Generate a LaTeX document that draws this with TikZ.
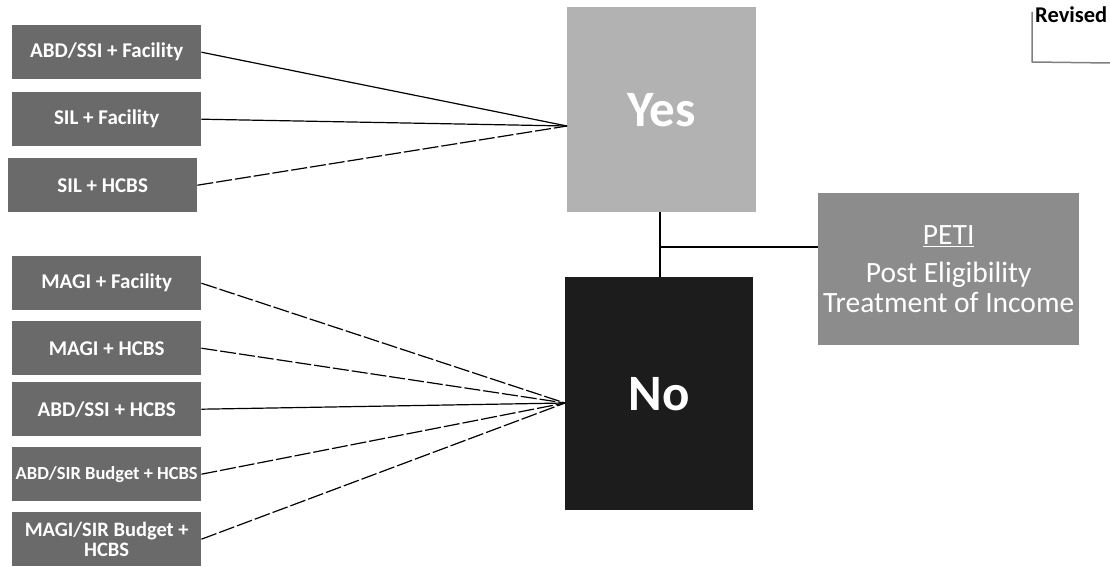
\documentclass[tikz,border=0pt]{standalone}
\usepackage{fontspec}
\setmainfont{Carlito}
\begin{document}
\begin{tikzpicture}[x=1pt,y=-1pt,
  lbox/.style={fill=leftgray, draw=none, text=white, font=\fontsize{21}{22}\selectfont\bfseries, minimum width=189pt, minimum height=54pt, anchor=north west, inner sep=1pt, align=center},
  conn/.style={draw=black, line width=1.2pt},
  dconn/.style={conn, dash pattern=on 16pt off 3pt}
]
\definecolor{leftgray}{HTML}{6A6A6A}
\definecolor{yesgray}{HTML}{B2B2B2}
\definecolor{nodark}{HTML}{1C1C1C}
\definecolor{petigray}{HTML}{8C8C8C}
\useasboundingbox (0,0) rectangle (1110,567);
\fill[white] (0,0) rectangle (1110,567);

% left boxes
\node[lbox] (a1) at (12,25) {ABD/SSI + Facility};
\node[lbox] (a2) at (12,92) {SIL + Facility};
\node[lbox] (a3) at (8,158) {SIL + HCBS};
\node[lbox] (b1) at (12,256) {MAGI + Facility};
\node[lbox] (b2) at (12,321) {MAGI + HCBS};
\node[lbox] (b3) at (12,382) {ABD/SSI + HCBS};
\node[lbox, font=\fontsize{18.5}{20}\selectfont\bfseries] (b4) at (12,447) {ABD/SIR Budget + HCBS};
\node[lbox, font=\fontsize{20.5}{20}\selectfont\bfseries] (b5) at (12,512) {MAGI/SIR Budget +\\HCBS};

% central boxes
\node[fill=yesgray, text=white, font=\fontsize{51}{52}\selectfont\bfseries, minimum width=189pt, minimum height=205pt, anchor=north west, inner sep=0pt] (yes) at (567,7) {Yes};
\node[fill=nodark, text=white, font=\fontsize{51}{52}\selectfont\bfseries, minimum width=188pt, minimum height=233pt, anchor=north west, inner sep=0pt] (no) at (565,277) {No};
\node[fill=petigray, text=white, font=\fontsize{29.5}{30}\selectfont, minimum width=261pt, minimum height=152pt, anchor=north west, inner sep=0pt, align=center] (peti) at (818,193) {\underline{PETI}\\[8pt]Post Eligibility\\Treatment of Income};

% revised tag
\node[font=\fontsize{22.5}{24}\selectfont\bfseries, anchor=north west, inner sep=0pt] (rev) at (1035,7) {Revised};
\coordinate (revtl) at (1032,12);
\coordinate (revbl) at (1032,62);
\coordinate (revbr) at (1110,63);
\draw[gray, line width=1.5pt] (revtl) -- (revbl) -- (revbr);

% convergence points
\coordinate (yin) at (567,126);
\coordinate (nin) at (565,403);
\coordinate (junc) at (660,247);

\draw[conn] (a1.east) -- (yin);
\draw[conn] (a2.east) -- (yin);
\draw[dconn] (a3.east) -- (yin);
\draw[dconn] (b1.east) -- (nin);
\draw[dconn] (b2.east) -- (nin);
\draw[conn] (b3.east) -- (nin);
\draw[dconn] (b4.east) -- (nin);
\draw[dconn] (b5.east) -- (nin);

\draw[conn] (yes.south -| junc) -- (no.north -| junc);
\draw[conn] (junc) -- (peti.west |- junc);
\end{tikzpicture}
\end{document}
